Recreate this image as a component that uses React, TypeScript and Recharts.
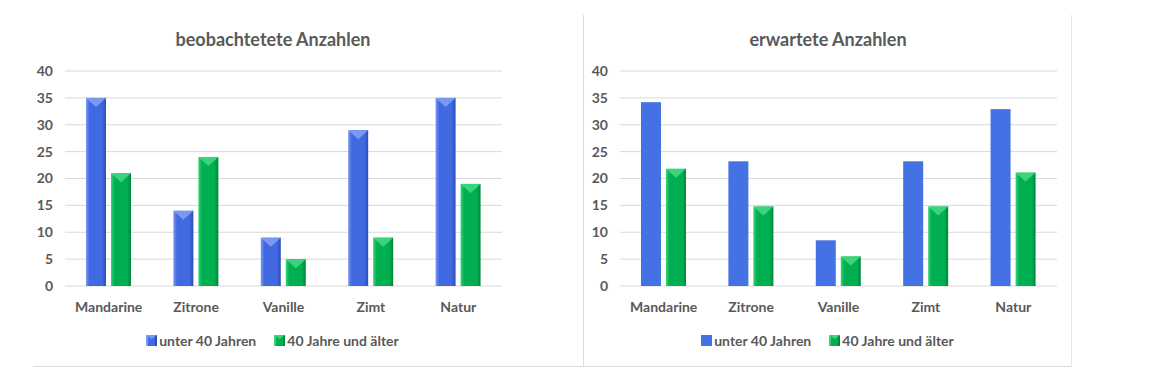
import { BarChart, Bar, XAxis, YAxis, CartesianGrid, Legend } from "recharts";

const CATEGORIES = ["Mandarine", "Zitrone", "Vanille", "Zimt", "Natur"];
const OBS_UNDER40 = [35, 14, 9, 29, 35];
const OBS_OVER40 = [21, 24, 5, 9, 19];
const EXP_UNDER40 = [34.2, 23.2, 8.5, 23.2, 32.9];
const EXP_OVER40 = [21.8, 14.8, 5.5, 14.8, 21.1];
const Y_TICKS = [0, 5, 10, 15, 20, 25, 30, 35, 40];
const SERIES_NAMES = ["unter 40 Jahren", "40 Jahre und älter"];

const FONT = "Lato, 'Noto Sans', sans-serif";
const TEXT = "#595959";

const BLUE = { main: "#4169E1", light: "#7C9AF2", dark: "#2C4DB8", top: "#8FA9F5" };
const GREEN = { main: "#00B050", light: "#38D47A", dark: "#00873A", top: "#4FE08C" };
const FLAT_BLUE = "#4472E4";

function buildRows(a: number[], b: number[]) {
  return CATEGORIES.map((name, i) => ({ name, a: a[i], b: b[i] }));
}

const GradientDefs = () => (
  <defs>
    {[
      ["bevBlue", BLUE],
      ["bevGreen", GREEN],
    ].map(([id, c]: any) => (
      <linearGradient key={id} id={id} x1="0" y1="0" x2="1" y2="0">
        <stop offset="0%" stopColor={c.light} />
        <stop offset="18%" stopColor={c.main} />
        <stop offset="80%" stopColor={c.main} />
        <stop offset="100%" stopColor={c.dark} />
      </linearGradient>
    ))}
  </defs>
);

function bevelShape(grad: string, top: string) {
  return (props: any) => {
    const { x, y, width, height } = props;
    if (!height || height <= 0) return <g />;
    const tri = Math.min(width * 0.45, height);
    return (
      <g>
        <rect x={x} y={y} width={width} height={height} fill={`url(#${grad})`} />
        <polygon
          points={`${x},${y} ${x + width},${y} ${x + width / 2},${y + tri}`}
          fill={top}
          opacity={0.75}
        />
      </g>
    );
  };
}

function flatShape(color: string) {
  return (props: any) => {
    const { x, y, width, height } = props;
    return <rect x={x} y={y} width={width} height={height} fill={color} />;
  };
}

const LegendIcon = ({ bevel, c }: { bevel: boolean; c: any }) => (
  <svg width={11} height={11} style={{ marginRight: 2 }}>
    {bevel ? (
      <>
        <rect x={0} y={0} width={11} height={11} fill={c.main} />
        <rect x={0} y={0} width={2} height={11} fill={c.light} />
        <rect x={9} y={0} width={2} height={11} fill={c.dark} />
        <polygon points="0,0 11,0 5.5,4" fill={c.top} opacity={0.75} />
      </>
    ) : (
      <rect x={0} y={0} width={11} height={11} fill={FLAT_BLUE} />
    )}
  </svg>
);

function Panel({
  title,
  a,
  b,
  blueBevel,
}: {
  title: string;
  a: number[];
  b: number[];
  blueBevel: boolean;
}) {
  const data = buildRows(a, b);
  const legendContent = () => (
    <div
      style={{
        display: "flex",
        justifyContent: "center",
        alignItems: "center",
        fontFamily: FONT,
        fontWeight: 700,
        fontSize: 14,
        color: TEXT,
        height: 24,
        paddingLeft: 8,
      }}
    >
      <span style={{ display: "flex", alignItems: "center", marginRight: 18 }}>
        <LegendIcon bevel={blueBevel} c={BLUE} />
        {SERIES_NAMES[0]}
      </span>
      <span style={{ display: "flex", alignItems: "center" }}>
        <LegendIcon bevel={true} c={GREEN} />
        {SERIES_NAMES[1]}
      </span>
    </div>
  );
  return (
    <div style={{ position: "relative", width: 545, height: 366 }}>
      <div
        style={{
          position: "absolute",
          top: 28,
          left: 0,
          width: 480,
          textAlign: "center",
          fontFamily: FONT,
          fontWeight: 700,
          fontSize: 18,
          color: TEXT,
        }}
      >
        {title}
      </div>
      <BarChart
        width={545}
        height={366}
        data={data}
        margin={{ top: 71, right: 76, left: 2, bottom: 14 }}
        barGap={5}
        barCategoryGap="24%"
      >
        <GradientDefs />
        <CartesianGrid vertical={false} stroke="#d9d9d9" />
        <XAxis
          dataKey="name"
          axisLine={false}
          tickLine={false}
          height={42}
          tick={{ fill: TEXT, fontSize: 14, fontWeight: 700, fontFamily: FONT }}
          dy={8}
        />
        <YAxis
          domain={[0, 40]}
          ticks={Y_TICKS}
          axisLine={false}
          tickLine={false}
          width={30}
          interval={0}
          tick={{ fill: TEXT, fontSize: 14, fontWeight: 700, fontFamily: FONT }}
          dx={-4}
        />
        <Legend verticalAlign="bottom" content={legendContent} />
        <Bar
          dataKey="a"
          name={SERIES_NAMES[0]}
          fill={BLUE.main}
          isAnimationActive={false}
          shape={blueBevel ? bevelShape("bevBlue", BLUE.top) : flatShape(FLAT_BLUE)}
        />
        <Bar
          dataKey="b"
          name={SERIES_NAMES[1]}
          fill={GREEN.main}
          isAnimationActive={false}
          shape={bevelShape("bevGreen", GREEN.top)}
        />
      </BarChart>
    </div>
  );
}

export default function App() {
  return (
    <div
      style={{
        position: "absolute",
        top: 0,
        left: 0,
        width: 1170,
        height: 386,
        background: "#fff",
        overflow: "hidden",
      }}
    >
      <div style={{ position: "absolute", left: 33, top: 0 }}>
        <Panel title="beobachtetete Anzahlen" a={OBS_UNDER40} b={OBS_OVER40} blueBevel={true} />
      </div>
      <div style={{ position: "absolute", left: 588, top: 0 }}>
        <Panel title="erwartete Anzahlen" a={EXP_UNDER40} b={EXP_OVER40} blueBevel={false} />
      </div>
      <div style={{ position: "absolute", left: 583, top: 15, width: 1, height: 351, background: "#dcdcdc" }} />
      <div style={{ position: "absolute", left: 1071, top: 15, width: 1, height: 351, background: "#e6e6e6" }} />
      <div style={{ position: "absolute", left: 33, top: 366, width: 1039, height: 1, background: "#dcdcdc" }} />
    </div>
  );
}
